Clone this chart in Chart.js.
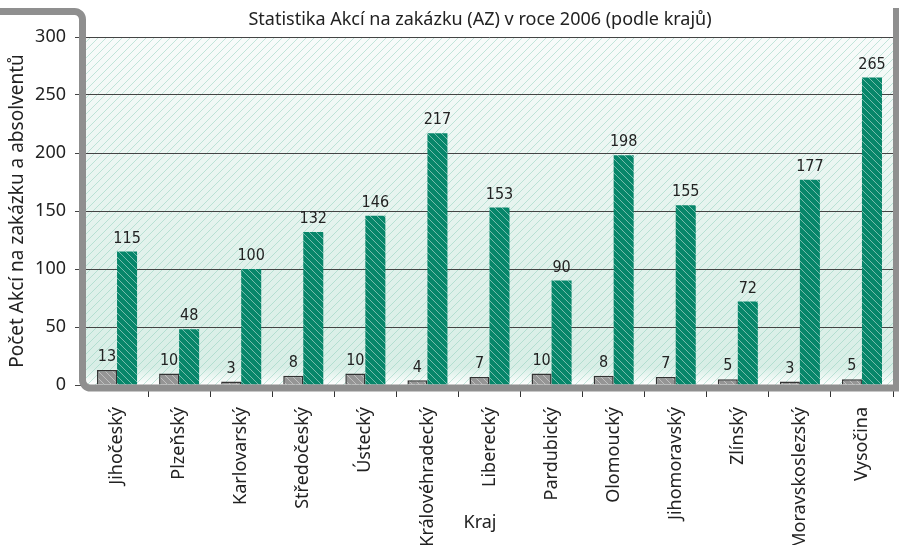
<!DOCTYPE html>
<html>
<head>
<meta charset="utf-8">
<script src="https://cdn.jsdelivr.net/npm/chart.js@4"></script>
<style>
  html, body { margin: 0; padding: 0; background: #fff; }
  #wrap { width: 899px; height: 545px; position: relative; }
</style>
</head>
<body>
<div id="wrap"><canvas id="azChart" width="899" height="545"></canvas></div>
<script>
// data
const categories = ['Jihočeský', 'Plzeňský', 'Karlovarský', 'Středočeský', 'Ústecký', 'Královéhradecký',
    'Liberecký', 'Pardubický', 'Olomoucký', 'Jihomoravský', 'Zlínský', 'Moravskoslezský', 'Vysočina'];
const azCounts = [13, 10, 3, 8, 10, 4, 7, 10, 8, 7, 5, 3, 5];
const graduateCounts = [115, 48, 100, 132, 146, 217, 153, 90, 198, 155, 72, 177, 265];
const yTickValues = [0, 50, 100, 150, 200, 250, 300];

const chartTitle = 'Statistika Akcí na zakázku (AZ) v roce 2006 (podle krajů)';
const xTitle = 'Kraj';
const yTitle = 'Počet Akcí na zakázku a absolventů';

// hatched fills
function makeHatch(base, line, size, dir) {
    const c = document.createElement('canvas');
    c.width = size; c.height = size;
    const g = c.getContext('2d');
    g.fillStyle = base;
    g.fillRect(0, 0, size, size);
    g.strokeStyle = line;
    g.lineWidth = 1;
    g.beginPath();
    if (dir === '\\') {
        g.moveTo(-1, -1); g.lineTo(size + 1, size + 1);
        g.moveTo(-1, size - 1); g.lineTo(1, size + 1);
        g.moveTo(size - 1, -1); g.lineTo(size + 1, 1);
    } else {
        g.moveTo(-1, size + 1); g.lineTo(size + 1, -1);
        g.moveTo(-1, 1); g.lineTo(1, -1);
        g.moveTo(size - 1, size + 1); g.lineTo(size + 1, size - 1);
    }
    g.stroke();
    return g.createPattern(c, 'repeat');
}

const ctx = document.getElementById('azChart').getContext('2d');
const greenFill = makeHatch('#07866a', 'rgba(255,255,255,0.45)', 7, '\\');
const grayFill = makeHatch('#959595', 'rgba(255,255,255,0.4)', 7, '\\');
const bgHatch = makeHatch('rgba(0,0,0,0)', 'rgba(140,205,185,0.5)', 8, '/');

// plot background: light teal gradient + sketchy hatching
const plotBackground = {
    id: 'plotBackground',
    beforeDraw(chart) {
        const { ctx, chartArea: a } = chart;
        ctx.save();
        const grad = ctx.createLinearGradient(0, a.top, 0, a.bottom);
        grad.addColorStop(0, '#f8fbfa');
        grad.addColorStop(0.6, '#e2f2ec');
        grad.addColorStop(0.95, '#d8eee6');
        grad.addColorStop(1, '#ffffff');
        ctx.fillStyle = grad;
        ctx.fillRect(a.left, a.top, a.right - a.left, a.bottom - a.top);
        ctx.fillStyle = bgHatch;
        ctx.fillRect(a.left, a.top, a.right - a.left, a.bottom - a.top);
        ctx.restore();
    }
};

// value labels above bars
const valueLabels = {
    id: 'valueLabels',
    afterDatasetsDraw(chart) {
        const { ctx } = chart;
        ctx.save();
        ctx.font = '16px "Liberation Sans Narrow", "DejaVu Sans Condensed", sans-serif';
        ctx.fillStyle = '#222';
        ctx.textAlign = 'center';
        ctx.textBaseline = 'bottom';
        chart.data.datasets.forEach((ds, i) => {
            chart.getDatasetMeta(i).data.forEach((bar, j) => {
                ctx.fillText(ds.data[j], bar.x, bar.y - 5);
            });
        });
        ctx.restore();
    }
};

// grey frame + titles
const frameAndTitles = {
    id: 'frameAndTitles',
    afterDraw(chart) {
        const { ctx } = chart;
        ctx.save();
        ctx.strokeStyle = '#8f8f8f';
        ctx.lineWidth = 7;
        ctx.beginPath();
        ctx.moveTo(0, 11.5);
        ctx.lineTo(74, 11.5);
        ctx.arcTo(82.5, 11.5, 82.5, 20, 8);
        ctx.lineTo(82.5, 380);
        ctx.arcTo(82.5, 388, 91, 388, 8);
        ctx.lineTo(899, 388);
        ctx.stroke();
        ctx.beginPath();
        ctx.moveTo(896.5, 8);
        ctx.lineTo(896.5, 386);
        ctx.stroke();

        ctx.fillStyle = '#222';
        ctx.textAlign = 'center';
        ctx.textBaseline = 'middle';
        ctx.font = '18px "Noto Sans", sans-serif';
        ctx.fillText(chartTitle, 480, 20);
        ctx.font = '18px "Noto Sans", sans-serif';
        ctx.fillText(xTitle, 480, 523);
        ctx.restore();
    }
};

new Chart(ctx, {
    type: 'bar',
    data: {
        labels: categories,
        datasets: [{
            label: 'Počet AZ',
            data: azCounts,
            backgroundColor: grayFill,
            borderColor: '#333',
            borderWidth: 1.5,
            categoryPercentage: 0.645,
            barPercentage: 1
        }, {
            label: 'Počet absolventů',
            data: graduateCounts,
            backgroundColor: greenFill,
            borderWidth: 0,
            categoryPercentage: 0.645,
            barPercentage: 1
        }]
    },
    options: {
        responsive: false,
        animation: false,
        layout: { padding: { top: 37, right: 6, left: 0, bottom: 0 } },
        plugins: {
            legend: { display: false },
            tooltip: { enabled: false },
            title: { display: false }
        },
        scales: {
            x: {
                grid: {
                    drawOnChartArea: false, drawTicks: true, tickLength: 12, lineWidth: 1,
                    color: (c) => (c.index === 0 || c.index >= categories.length) ? 'rgba(0,0,0,0)' : '#333'
                },
                border: { display: false },
                ticks: {
                    minRotation: 90, maxRotation: 90, autoSkip: false, padding: 10,
                    color: '#222', font: { family: 'Noto Sans', size: 18 }
                },
                afterFit(s) { s.height = 545 - 385; }
            },
            y: {
                min: 0, max: 300,
                afterBuildTicks(s) { s.ticks = yTickValues.map(v => ({ value: v })); },
                grid: { color: '#444', lineWidth: 1, tickLength: 11, drawTicks: true },
                border: { display: false },
                ticks: { padding: 9, color: '#222', font: { family: 'Noto Sans', size: 18 } },
                title: {
                    display: true, text: yTitle, color: '#222',
                    font: { family: 'Noto Sans', size: 19 }, padding: { top: 6, bottom: 0 }
                },
                afterFit(s) { s.width = 86; }
            }
        }
    },
    plugins: [plotBackground, valueLabels, frameAndTitles]
});
</script>
</body>
</html>
